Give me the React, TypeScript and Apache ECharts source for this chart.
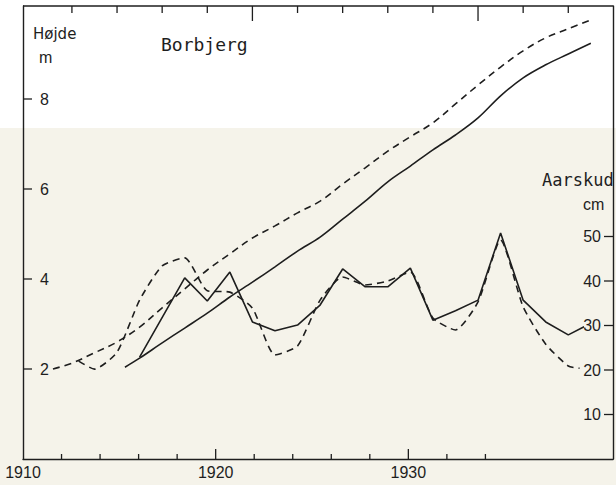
import React, { useEffect, useRef } from "react";
import * as echarts from "echarts";

// Bottom time axis
const bottomLabelYears = [1910, 1920, 1930];
const bottomMinorTicks = [1912, 1914, 1916, 1918, 1922, 1924, 1926, 1928, 1932, 1934];
// Top axis (the scale the curves are drawn on)
const topMinorTicks = [1912, 1914, 1916, 1918, 1922, 1924, 1926, 1928, 1932, 1934];
const majorTicks = [1920, 1930];
const heightTicks = [2, 4, 6, 8];
const shootTicks = [10, 20, 30, 40, 50];

// Højde (m), solid curve
const heightSolidYears = [1914.35, 1915, 1916, 1917, 1918, 1919, 1920, 1921, 1922, 1923, 1924, 1925, 1926, 1927, 1928, 1929, 1930, 1931, 1932, 1933, 1934, 1935];
const heightSolidValues = [2.04, 2.24, 2.58, 2.91, 3.24, 3.6, 3.93, 4.27, 4.62, 4.93, 5.33, 5.73, 6.16, 6.51, 6.87, 7.2, 7.58, 8.07, 8.47, 8.76, 9.0, 9.24];

// Højde (m), dashed curve
const heightDashedYears = [1911.16, 1912, 1913, 1914, 1915, 1916, 1917, 1918, 1919, 1920, 1921, 1922, 1923, 1924, 1925, 1926, 1927, 1928, 1929, 1930, 1931, 1932, 1933, 1934, 1935];
const heightDashedValues = [2.0, 2.13, 2.36, 2.6, 2.93, 3.36, 3.78, 4.2, 4.56, 4.91, 5.18, 5.47, 5.73, 6.11, 6.47, 6.84, 7.16, 7.47, 7.89, 8.31, 8.71, 9.07, 9.36, 9.56, 9.76];

// Aarskud (cm), solid
const shootSolidYears = [1915, 1917, 1918, 1919, 1920, 1921, 1922, 1923, 1924, 1925, 1926, 1927, 1928, 1929, 1930, 1931, 1932, 1933, 1934, 1934.7];
const shootSolidValues = [22.9, 40.7, 35.5, 42.0, 30.8, 28.8, 30.1, 34.6, 42.7, 38.7, 38.7, 42.9, 31.2, 33.3, 35.7, 50.8, 35.7, 30.8, 27.9, 29.7];

// Aarskud (cm), dashed
const shootDashedYears = [1912.3, 1913, 1914, 1915, 1916, 1917, 1918, 1919, 1920, 1921, 1922, 1923, 1924, 1925, 1926, 1927, 1928, 1929, 1930, 1931, 1932, 1933, 1934, 1934.5];
const shootDashedValues = [22.0, 20.2, 24.0, 35.7, 43.4, 45.2, 37.8, 37.5, 33.9, 23.4, 25.4, 35.7, 40.9, 39.1, 40.0, 42.0, 31.7, 29.0, 35.3, 49.2, 34.2, 25.8, 20.9, 20.4];

const INK = "#1e1e1e";
const NUM_FONT = "Liberation Sans";

const zip = (xs: number[], ys: number[]) => xs.map((x, i) => [x, ys[i]]);

// frame geometry
const W = 616;
const H = 485;
const GL = 23;
const GR = 614;
const GT = 6;
const GB = 459;
const BOTTOM_MIN = 1910;
const BOTTOM_PX_PER_YEAR = 19.3;
const TOP_REF_YEAR = 1912;
const TOP_REF_X = 72;
const TOP_PX_PER_YEAR = 22.6;
const SHOOT_PX_PER_CM = 4.45;
const HEIGHT_PX_PER_M = 45;

const topMin = TOP_REF_YEAR - (TOP_REF_X - GL) / TOP_PX_PER_YEAR;
const topMax = TOP_REF_YEAR + (GR - TOP_REF_X) / TOP_PX_PER_YEAR;
const bottomMax = BOTTOM_MIN + (GR - GL) / BOTTOM_PX_PER_YEAR;
const heightMax = (GB - GT) / HEIGHT_PX_PER_M;
const shootMax = (GB - GT) / SHOOT_PX_PER_CM;

// tick marks drawn through the axes' own scales (custom series)
const tickSeries = (
  name: string,
  xAxisIndex: number,
  yAxisIndex: number,
  points: number[][],
  dx: number,
  dy: number
) => ({
  name,
  type: "custom",
  xAxisIndex,
  yAxisIndex,
  silent: true,
  clip: false,
  z: 5,
  data: points,
  renderItem: (_params: any, api: any) => {
    const p = api.coord([api.value(0), api.value(1)]);
    return {
      type: "line",
      shape: { x1: p[0], y1: p[1], x2: p[0] + dx, y2: p[1] + dy },
      style: { stroke: INK, lineWidth: 1.3 },
    };
  },
});

export default function App() {
  const ref = useRef<HTMLDivElement>(null);

  useEffect(() => {
    document.body.style.margin = "0";
    if (!ref.current) return;
    const chart = echarts.init(ref.current, undefined, { renderer: "svg" });
    const lineStyle = () => ({ color: INK, width: 1.4 });

    chart.setOption({
      animation: false,
      backgroundColor: "#f5f3ea",
      grid: { left: GL, width: GR - GL, top: GT, height: GB - GT },
      xAxis: [
        {
          type: "value",
          position: "bottom",
          min: BOTTOM_MIN,
          max: bottomMax,
          interval: 10,
          axisLine: { show: true, onZero: false, lineStyle: lineStyle() },
          axisTick: { show: false },
          axisLabel: {
            show: true,
            formatter: (v: number) => (bottomLabelYears.indexOf(v) >= 0 ? String(v) : ""),
            margin: 5,
            fontSize: 16,
            color: INK,
            fontFamily: NUM_FONT,
          },
          splitLine: { show: false },
        },
        {
          type: "value",
          position: "top",
          min: topMin,
          max: topMax,
          axisLine: { show: false },
          axisTick: { show: false },
          axisLabel: { show: false },
          splitLine: { show: false },
        },
      ],
      yAxis: [
        {
          type: "value",
          position: "left",
          min: 0,
          max: heightMax,
          interval: 2,
          axisLine: { show: true, onZero: false, lineStyle: lineStyle() },
          axisTick: { show: false },
          axisLabel: {
            show: true,
            inside: true,
            margin: 17,
            formatter: (v: number) => (heightTicks.indexOf(v) >= 0 ? String(v) : ""),
            fontSize: 16,
            color: INK,
            fontFamily: NUM_FONT,
          },
          splitLine: { show: false },
        },
        {
          type: "value",
          position: "right",
          min: 0,
          max: shootMax,
          interval: 10,
          axisLine: { show: true, onZero: false, lineStyle: lineStyle() },
          axisTick: { show: false },
          axisLabel: {
            show: true,
            inside: true,
            margin: 12,
            formatter: (v: number) => (shootTicks.indexOf(v) >= 0 ? String(v) : ""),
            fontSize: 16,
            color: INK,
            fontFamily: NUM_FONT,
          },
          splitLine: { show: false },
        },
      ],
      graphic: [
        {
          type: "rect",
          z: -10,
          silent: true,
          shape: { x: 0, y: 0, width: W, height: 128 },
          style: { fill: "#ffffff" },
        },
        {
          type: "text",
          left: 33,
          top: 26,
          style: { text: "Højde", fontSize: 15, fontFamily: "DejaVu Sans", fill: INK },
        },
        {
          type: "text",
          left: 39,
          top: 49,
          style: { text: "m", fontSize: 16, fontFamily: NUM_FONT, fill: INK },
        },
        {
          type: "text",
          left: 161,
          top: 35,
          style: { text: "Borbjerg", fontSize: 18, fontFamily: "DejaVu Sans Mono", fill: INK },
        },
        {
          type: "text",
          left: 542,
          top: 171,
          style: { text: "Aarskud", fontSize: 17, fontFamily: "DejaVu Sans Mono", fill: INK },
        },
        {
          type: "text",
          left: 583,
          top: 196,
          style: { text: "cm", fontSize: 16, fontFamily: NUM_FONT, fill: INK },
        },
      ],
      series: [
        {
          name: "Ramme øverst",
          type: "line",
          xAxisIndex: 1,
          yAxisIndex: 0,
          data: [
            [topMin, heightMax],
            [topMax, heightMax],
          ],
          symbol: "none",
          silent: true,
          clip: false,
          lineStyle: { color: INK, width: 1.4 },
        },
        tickSeries("ticks-bottom", 0, 0, bottomMinorTicks.map((y) => [y, 0]), 0, -5),
        tickSeries("ticks-bottom-major", 0, 0, majorTicks.map((y) => [y, 0]), 0, -10),
        tickSeries("ticks-top", 1, 0, topMinorTicks.map((y) => [y, heightMax]), 0, 7),
        tickSeries("ticks-top-major", 1, 0, majorTicks.map((y) => [y, heightMax]), 0, 15),
        tickSeries("ticks-left", 0, 0, heightTicks.map((v) => [BOTTOM_MIN, v]), 9, 0),
        tickSeries("ticks-right", 0, 1, shootTicks.map((v) => [bottomMax, v]), -9, 0),
        {
          name: "Højde (fuldt optrukket)",
          type: "line",
          xAxisIndex: 1,
          yAxisIndex: 0,
          data: zip(heightSolidYears, heightSolidValues),
          smooth: 0.35,
          symbol: "none",
          lineStyle: { color: INK, width: 1.6 },
        },
        {
          name: "Højde (stiplet)",
          type: "line",
          xAxisIndex: 1,
          yAxisIndex: 0,
          data: zip(heightDashedYears, heightDashedValues),
          smooth: 0.35,
          symbol: "none",
          lineStyle: { color: INK, width: 1.6, type: [7, 5] },
        },
        {
          name: "Aarskud (fuldt optrukket)",
          type: "line",
          xAxisIndex: 1,
          yAxisIndex: 1,
          data: zip(shootSolidYears, shootSolidValues),
          symbol: "none",
          lineStyle: { color: INK, width: 1.6 },
        },
        {
          name: "Aarskud (stiplet)",
          type: "line",
          xAxisIndex: 1,
          yAxisIndex: 1,
          data: zip(shootDashedYears, shootDashedValues),
          smooth: 0.2,
          symbol: "none",
          lineStyle: { color: INK, width: 1.6, type: [7, 5] },
        },
      ],
    });

    return () => chart.dispose();
  }, []);

  return <div ref={ref} style={{ width: W, height: H }} />;
}
